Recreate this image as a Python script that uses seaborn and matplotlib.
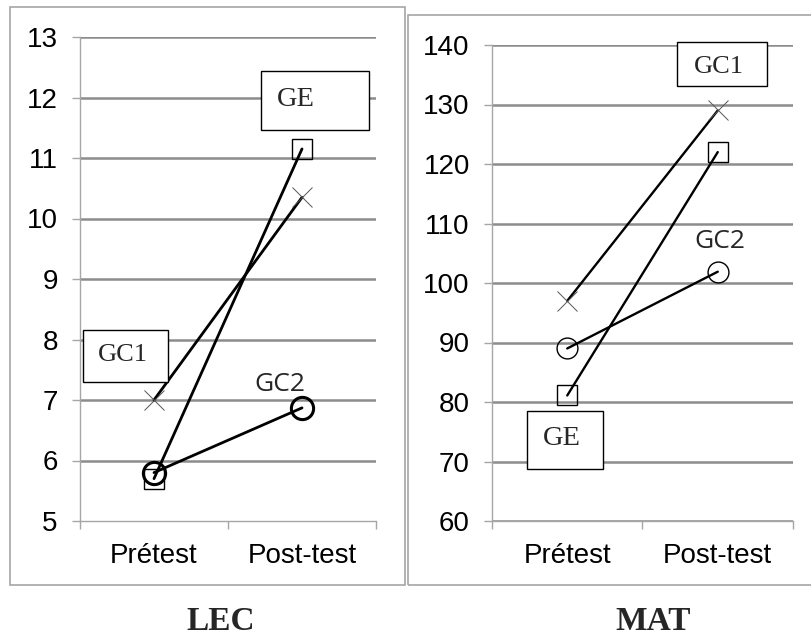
import matplotlib
matplotlib.use("Agg")
import matplotlib.pyplot as plt
import seaborn as sns
import pandas as pd
from matplotlib.patches import Rectangle

# values
phases = ["Prétest", "Post-test"]
groups = ["GE", "GC1", "GC2"]
lec_ge = [5.7, 11.15]
lec_gc1 = [7.0, 10.35]
lec_gc2 = [5.8, 6.87]
mat_ge = [81.1, 122.0]
mat_gc1 = [97.0, 129.0]
mat_gc2 = [89.0, 101.9]
lec_ticks = list(range(5, 14))
mat_ticks = list(range(60, 141, 10))


def make_df(ge, gc1, gc2):
    rows = []
    for g, vals in zip(groups, [ge, gc1, gc2]):
        for p, v in zip(phases, vals):
            rows.append({"phase": p, "group": g, "score": v})
    return pd.DataFrame(rows)


lec_df = make_df(lec_ge, lec_gc1, lec_gc2)
mat_df = make_df(mat_ge, mat_gc1, mat_gc2)

sns.set_style("white")
plt.rcParams["font.family"] = ["Liberation Sans", "DejaVu Sans"]

fig = plt.figure(figsize=(8.12, 6.37), dpi=100)
ax1 = fig.add_axes([80 / 812, 1 - 521 / 637, 296 / 812, 484 / 637])
ax2 = fig.add_axes([492 / 812, 1 - 521 / 637, 301 / 812, 476 / 637])

grid_col = "#8c8c8c"
frame_col = "#a6a6a6"


def draw_panel(ax, df, ticks, thick):
    lw = 2.0 if thick else 1.7
    styles = {
        "GE": dict(marker="s", markersize=14, markeredgewidth=1.0,
                   markeredgecolor="black", markerfacecolor="none"),
        "GC1": dict(marker="x", markersize=15, markeredgewidth=0.7,
                    markeredgecolor="#555555"),
        "GC2": dict(marker="o", markersize=16 if thick else 15,
                    markeredgewidth=2.2 if thick else 1.0,
                    markeredgecolor="black", markerfacecolor="none"),
    }
    for g in groups:
        sub = df[df["group"] == g]
        sns.lineplot(data=sub, x="phase", y="score", ax=ax, color="black",
                     linewidth=lw, **styles[g])
    ax.set_xlim(-0.5, 1.5)
    ax.set_ylim(ticks[0], ticks[-1])
    ax.set_yticks(ticks)
    ax.set_xticks([0, 1])
    ax.set_xticklabels(phases)
    ax.set_xticks([-0.5, 0.5, 1.5], minor=True)
    ax.set_xlabel("")
    ax.set_ylabel("")
    ax.yaxis.grid(True, color=grid_col, linewidth=1.8)
    ax.set_axisbelow(True)
    for s in ["top", "right"]:
        ax.spines[s].set_visible(False)
    for s in ["left", "bottom"]:
        ax.spines[s].set_color(frame_col)
        ax.spines[s].set_linewidth(1.0)
    ax.tick_params(axis="y", which="major", left=True, length=6, width=1,
                   color=frame_col, pad=10, labelsize=20, labelcolor="black")
    ax.tick_params(axis="x", which="major", bottom=False, pad=12,
                   labelsize=20, labelcolor="black")
    ax.tick_params(axis="x", which="minor", bottom=True, length=6, width=1,
                   color=frame_col)


draw_panel(ax1, lec_df, lec_ticks, True)
draw_panel(ax2, mat_df, mat_ticks, False)
ax1.get_ygridlines()[0].set_visible(False)

serif = ["Liberation Serif", "DejaVu Serif"]
sans2 = ["Open Sans", "DejaVu Sans"]

# label boxes (data coords: x0, y0, width, height)
ax1.add_patch(Rectangle((0.723, 11.46), 0.73, 0.97, facecolor="white",
                        edgecolor="black", linewidth=1.0, zorder=5))
ax1.text(0.956, 11.86, "GE", family=serif, fontsize=20.5, ha="center",
         va="baseline", zorder=6)
ax1.add_patch(Rectangle((-0.48, 7.30), 0.575, 0.86, facecolor="white",
                        edgecolor="black", linewidth=1.0, zorder=5,
                        clip_on=False))
ax1.text(-0.21, 7.64, "GC1", family=serif, fontsize=19, ha="center",
         va="baseline", zorder=6)
ax1.text(0.851, 7.15, "GC2", family=sans2, fontsize=19, ha="center",
         va="baseline", zorder=6)

ax2.add_patch(Rectangle((0.729, 133.1), 0.598, 7.4, facecolor="white",
                        edgecolor="black", linewidth=1.0, zorder=5,
                        clip_on=False))
ax2.text(1.005, 135.3, "GC1", family=serif, fontsize=19, ha="center",
         va="baseline", zorder=6)
ax2.add_patch(Rectangle((-0.267, 68.7), 0.505, 9.8, facecolor="white",
                        edgecolor="black", linewidth=1.0, zorder=5))
ax2.text(-0.036, 72.8, "GE", family=serif, fontsize=20.5, ha="center",
         va="baseline", zorder=6)
ax2.text(1.017, 105.9, "GC2", family=sans2, fontsize=19, ha="center",
         va="baseline", zorder=6)

# panel frames
fig.patches.append(Rectangle((10 / 812, 1 - 585 / 637), 395 / 812, 578 / 637,
                             transform=fig.transFigure, fill=False,
                             edgecolor=frame_col, linewidth=1.2))
fig.patches.append(Rectangle((408 / 812, 1 - 585 / 637), 410 / 812, 570 / 637,
                             transform=fig.transFigure, fill=False,
                             edgecolor=frame_col, linewidth=1.2))

fig.text(221 / 812, 1 - 622 / 637, "LEC", family=serif, fontsize=24,
         fontweight="bold", ha="center", va="center")
fig.text(653 / 812, 1 - 622 / 637, "MAT", family=serif, fontsize=24,
         fontweight="bold", ha="center", va="center")

fig.savefig("out.png", dpi=100)
